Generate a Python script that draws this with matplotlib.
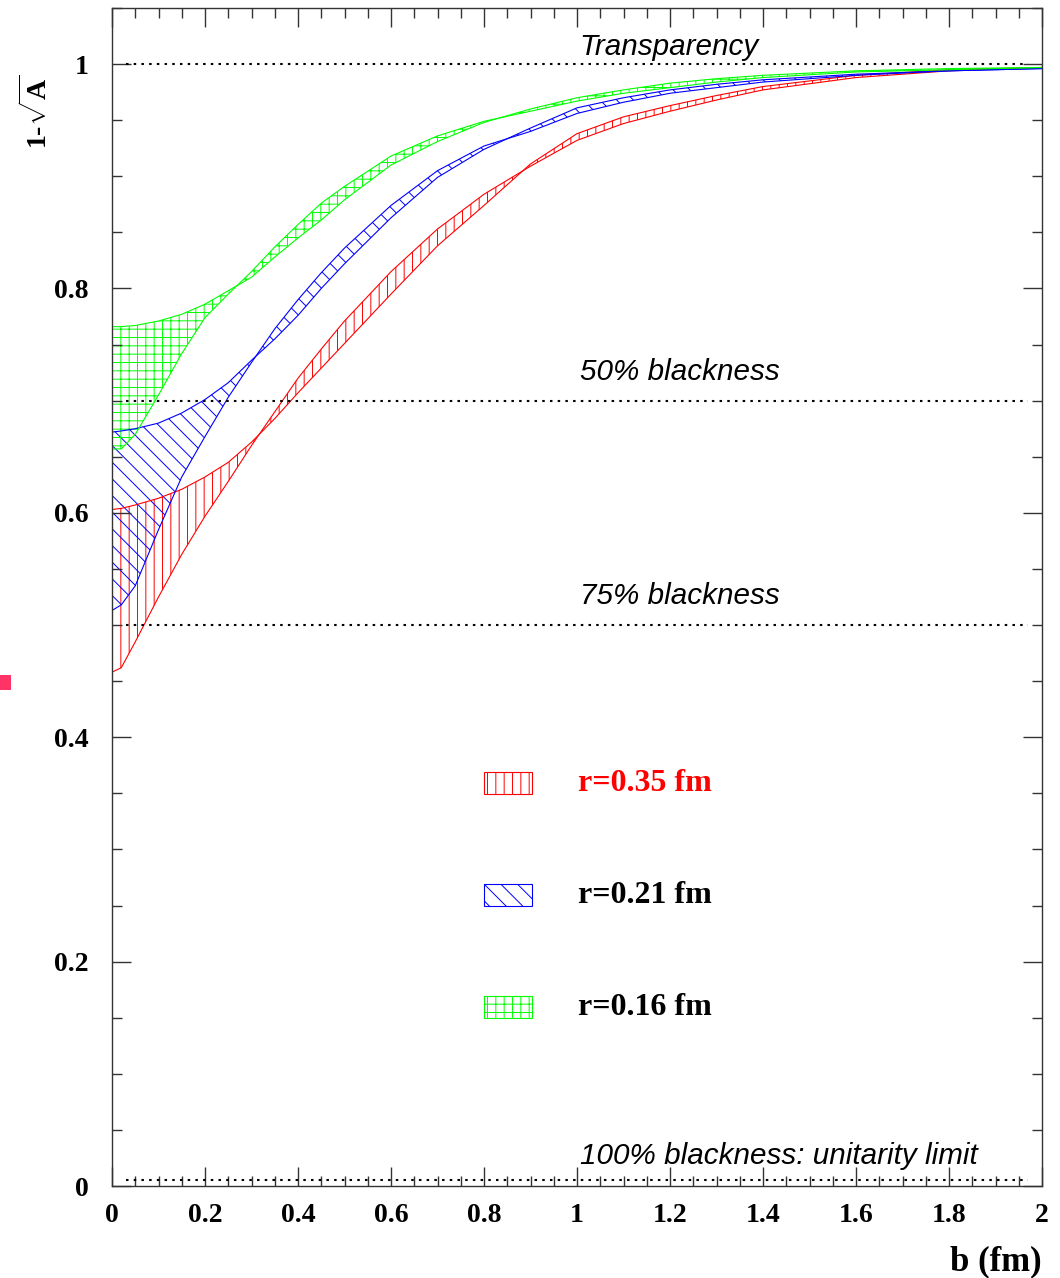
import matplotlib
matplotlib.use('Agg')
import matplotlib.pyplot as plt
from matplotlib.patches import Rectangle
from matplotlib.ticker import MultipleLocator

# impact parameter grid (fm)
b = [0, 0.02, 0.05, 0.1, 0.15, 0.2, 0.25, 0.3, 0.35, 0.4, 0.45, 0.5,
     0.6, 0.7, 0.8, 0.9, 1.0, 1.1, 1.2, 1.3, 1.4, 1.6, 1.8, 2.0]

# band edges, r = 0.35 fm
red_a = [0.603, 0.604, 0.607, 0.613, 0.621, 0.632, 0.645, 0.663, 0.684, 0.707, 0.729, 0.751,
         0.795, 0.838, 0.874, 0.911, 0.938, 0.953, 0.963, 0.972, 0.980, 0.990, 0.995, 0.997]
red_b = [0.458, 0.462, 0.485, 0.525, 0.563, 0.597, 0.628, 0.660, 0.690, 0.720, 0.746, 0.771,
         0.815, 0.853, 0.884, 0.909, 0.932, 0.947, 0.958, 0.968, 0.977, 0.988, 0.994, 0.997]
# r = 0.21 fm
blue_a = [0.672, 0.673, 0.675, 0.680, 0.689, 0.701, 0.716, 0.736, 0.755, 0.776, 0.800, 0.822,
          0.863, 0.899, 0.924, 0.943, 0.961, 0.970, 0.977, 0.982, 0.986, 0.991, 0.994, 0.996]
blue_b = [0.513, 0.518, 0.535, 0.585, 0.632, 0.668, 0.703, 0.734, 0.764, 0.790, 0.814, 0.836,
          0.874, 0.905, 0.927, 0.940, 0.956, 0.966, 0.974, 0.979, 0.984, 0.990, 0.994, 0.996]
# r = 0.16 fm
green_a = [0.766, 0.766, 0.767, 0.771, 0.777, 0.786, 0.798, 0.810, 0.828, 0.845, 0.861, 0.879,
           0.910, 0.931, 0.948, 0.960, 0.970, 0.977, 0.983, 0.987, 0.990, 0.994, 0.996, 0.997]
green_b = [0.657, 0.657, 0.670, 0.705, 0.742, 0.774, 0.795, 0.815, 0.837, 0.857, 0.876, 0.891,
           0.918, 0.936, 0.949, 0.958, 0.967, 0.974, 0.979, 0.984, 0.988, 0.993, 0.995, 0.997]

labels = ['r=0.35 fm', 'r=0.21 fm', 'r=0.16 fm']
colors = ['#ff0000', '#0000ff', '#00ff00']
hatches = ['||', '\\\\', '++']
label_colors = ['#ff0000', 'black', 'black']

# reference levels
ref_levels = [1.0, 0.7, 0.5, 0.005]
ref_texts = ['Transparency', '50% blackness', '75% blackness',
             '100% blackness: unitarity limit']
ref_text_y = [1.008, 0.718, 0.519, 0.0196]

plt.rcParams['hatch.linewidth'] = 0.7
plt.rcParams['mathtext.fontset'] = 'custom'
plt.rcParams['mathtext.rm'] = 'Liberation Serif:bold'
plt.rcParams['mathtext.bf'] = 'Liberation Serif:bold'

fig = plt.figure(figsize=(10.6, 12.78), dpi=100)
ax = fig.add_axes([112 / 1060, 92 / 1278, 930 / 1060, 1178 / 1278])

bands = [(red_a, red_b), (blue_a, blue_b), (green_a, green_b)]
for (ya, yb), c, h in zip(bands, colors, hatches):
    ax.fill_between(b, ya, yb, facecolor='none', edgecolor=c, hatch=h, linewidth=0)
    ax.plot(b, ya, color=c, lw=0.8)
    ax.plot(b, yb, color=c, lw=0.8)

for lev, txt, ty in zip(ref_levels, ref_texts, ref_text_y):
    ax.hlines(lev, 0.03, 1.97, colors='black', linestyles=(0, (1.2, 2.5)), lw=1.5)
    ax.text(1.006, ty, txt, fontsize=21.3, style='italic', family='Liberation Sans',
            va='baseline', ha='left')

# legend boxes
box_y = [0.3328, 0.2377, 0.1426]
for lab, c, h, lc, y0 in zip(labels, colors, hatches, label_colors, box_y):
    ax.add_patch(Rectangle((0.4, y0), 0.0516, 0.0187, transform=ax.transAxes,
                           facecolor='none', edgecolor=c, hatch=h, lw=0.8))
    ax.text(0.501, y0 + 0.0093, lab, transform=ax.transAxes, color=lc,
            fontsize=23, fontweight='bold', family='Liberation Serif', va='center')

ax.set_xlim(0, 2)
ax.set_ylim(0, 1.05)
ax.xaxis.set_major_locator(MultipleLocator(0.2))
ax.xaxis.set_minor_locator(MultipleLocator(0.05))
ax.yaxis.set_major_locator(MultipleLocator(0.2))
ax.yaxis.set_minor_locator(MultipleLocator(0.05))
ax.set_xticks([0, 0.2, 0.4, 0.6, 0.8, 1, 1.2, 1.4, 1.6, 1.8, 2])
ax.set_xticklabels(['0', '0.2', '0.4', '0.6', '0.8', '1', '1.2', '1.4', '1.6', '1.8', '2'])
ax.set_yticks([0, 0.2, 0.4, 0.6, 0.8, 1])
ax.set_yticklabels(['0', '0.2', '0.4', '0.6', '0.8', '1'])
ax.tick_params(which='both', direction='in', top=True, right=True, width=1, color='#333333')
ax.tick_params(which='major', length=13.5)
ax.tick_params(which='minor', length=7)
ax.tick_params(axis='x', pad=12)
ax.tick_params(axis='y', pad=17)
for lab in ax.get_xticklabels() + ax.get_yticklabels():
    lab.set_family('Liberation Serif')
    lab.set_fontweight('bold')
    lab.set_fontsize(20)
for s in ax.spines.values():
    s.set_color('#333333')
    s.set_linewidth(1)

fig.text(37 / 1060, 1 - 112 / 1278, r'1-$\sqrt{\mathbf{A}}$', rotation=90,
         ha='center', va='center', fontsize=20, fontweight='bold', family='Liberation Serif')
fig.text(1042 / 1060, 1 - 1262 / 1278, 'b (fm)', ha='right', va='center',
         fontsize=25, fontweight='bold', family='Liberation Serif')

# small marker at the left edge
fig.patches.append(Rectangle((0, 1 - 690 / 1278), 11 / 1060, 15 / 1278,
                             transform=fig.transFigure, facecolor='#ff3366',
                             edgecolor='none', figure=fig))

fig.savefig('out.png', dpi=100)
